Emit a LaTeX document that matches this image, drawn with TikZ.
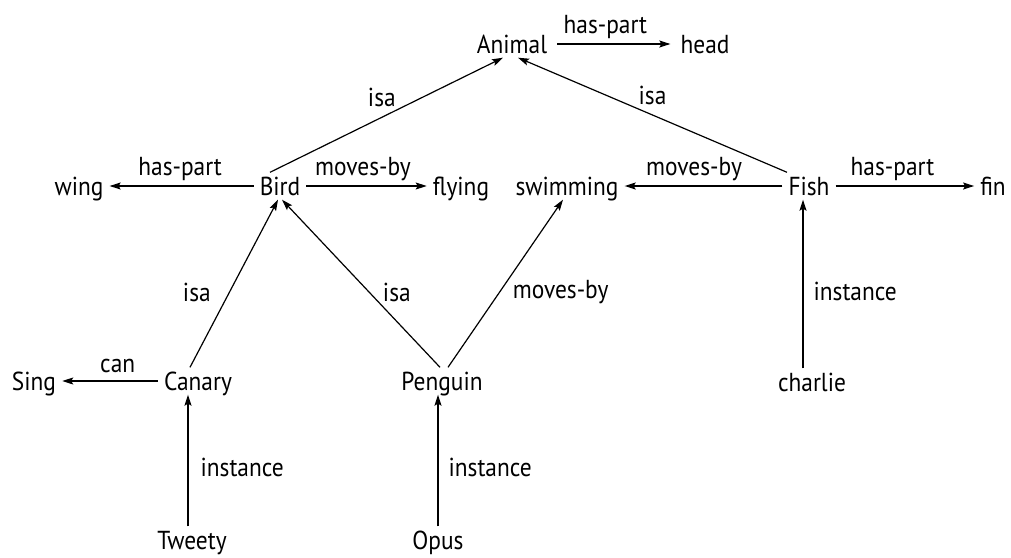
\documentclass[tikz,border=0pt]{standalone}
\usepackage{fontspec}
\setmainfont{PT Sans}[FakeStretch=0.9]
\usetikzlibrary{arrows.meta}
\begin{document}
\begin{tikzpicture}[x=1pt,y=-1pt,
  every node/.style={font=\fontsize{26}{30}\selectfont},
  concept/.style={inner xsep=6pt, inner ysep=4.5pt, text height=18pt, text depth=0pt},
  rel/.style={draw, line width=1.2pt, -{Stealth[length=11pt,width=7pt,inset=2pt]}},
  hlab/.style={anchor=base, yshift=11pt, inner sep=0pt},
  llab/.style={anchor=base east, inner sep=0pt},
  rlab/.style={anchor=base west, inner sep=0pt}]
\useasboundingbox (0,0) rectangle (1011,557);
% nodes
\node[concept] (Animal) at (512,44) {Animal};
\node[concept] (head) at (705,44) {head};
\node[concept] (wing) at (79,186) {wing};
\node[concept] (Bird) at (280,186) {Bird};
\node[concept] (flying) at (461,186) {flying};
\node[concept] (swimming) at (567,186) {swimming};
\node[concept] (Fish) at (809,186) {Fish};
\node[concept] (fin) at (993,186) {fin};
\node[concept] (Sing) at (34,381) {Sing};
\node[concept] (Canary) at (198,381) {Canary};
\node[concept] (Penguin) at (442,381) {Penguin};
\node[concept] (charlie) at (812,382) {charlie};
\node[concept] (Tweety) at (192,540) {Tweety};
\node[concept] (Opus) at (438,540) {Opus};
% horizontal relations
\draw[rel, shorten <=4pt, shorten >=4pt] (Animal) -- node[hlab, pos=0.43] {has-part} (head);
\draw[rel] (Bird) -- node[hlab, pos=0.51] {has-part} (wing);
\draw[rel] (Bird) -- node[hlab, pos=0.47] {moves-by} (flying);
\draw[rel] (Fish) -- node[hlab, pos=0.56] {moves-by} (swimming);
\draw[rel] (Fish) -- node[hlab, pos=0.41] {has-part} (fin);
\draw[rel] (Canary) -- node[hlab, pos=0.42, yshift=-2pt] {can} (Sing);
% diagonal relations
\draw[rel] ([xshift=-10pt]Bird.north) -- node[pos=0.48, anchor=base, yshift=11pt, inner sep=0pt] {isa} ([xshift=-9pt]Animal.south);
\draw[rel] ([xshift=-22pt]Fish.north) -- node[pos=0.5, anchor=base, yshift=11pt, inner sep=0pt] {isa} ([xshift=6pt]Animal.south);
\draw[rel] ([xshift=-8pt]Canary.north) -- node[llab, pos=0.39, xshift=-13pt] {isa} ([xshift=-2pt]Bird.south);
\draw[rel] ([xshift=-2pt]Penguin.north) -- node[rlab, pos=0.39, xshift=4pt] {isa} ([xshift=2pt]Bird.south);
\draw[rel] ([xshift=6pt]Penguin.north) -- node[rlab, pos=0.41, xshift=17pt] {moves-by} ([xshift=-4pt]swimming.south);
% vertical relations
\draw[rel] ([xshift=-9pt]charlie.north) -- node[rlab, pos=0.40, xshift=10pt] {instance} ([xshift=-6pt]Fish.south);
\draw[rel] ([xshift=-4pt]Tweety.north) -- node[rlab, pos=0.38, xshift=12pt] {instance} ([xshift=-10pt]Canary.south);
\draw[rel] (Opus.north) -- node[rlab, pos=0.38, xshift=10pt] {instance} ([xshift=-4pt]Penguin.south);
\end{tikzpicture}
\end{document}
